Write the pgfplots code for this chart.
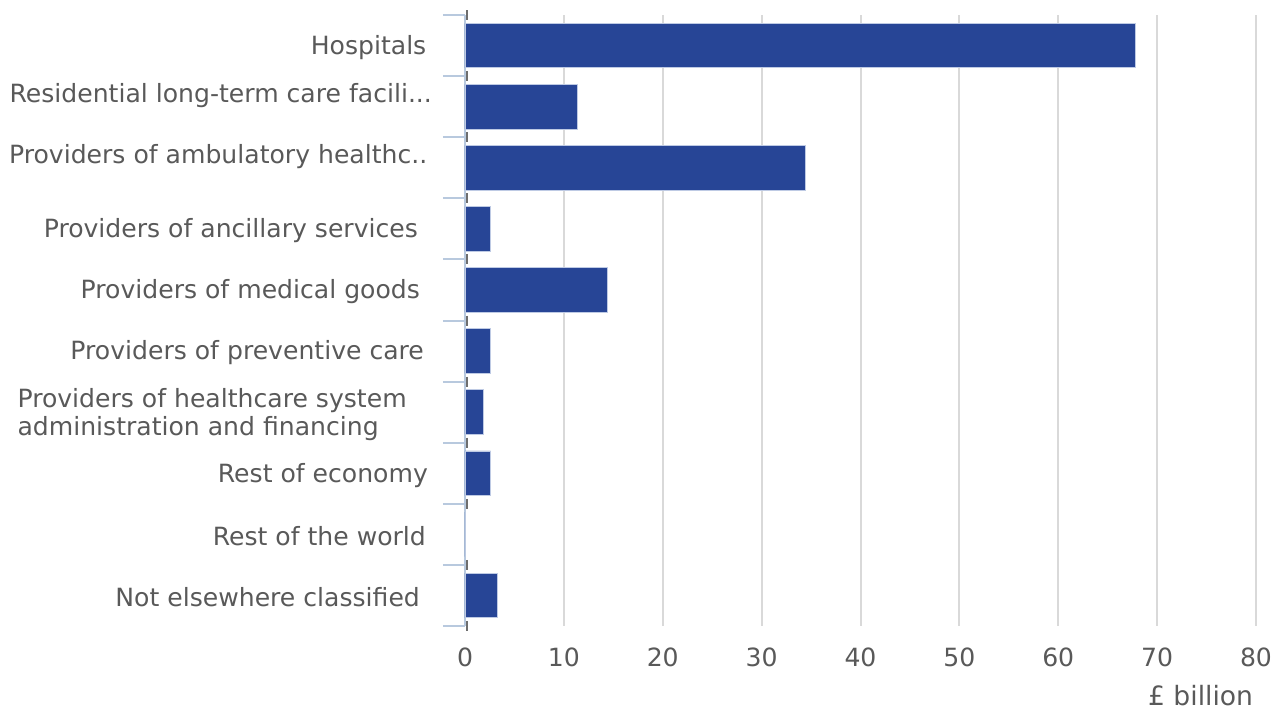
\documentclass[border=0pt]{standalone}
\usepackage{fontspec}
\setmainfont{DejaVu Sans}
\usepackage{pgfplots}
\pgfplotsset{compat=1.18}
\definecolor{barblue}{RGB}{39,69,150}
\definecolor{baredge}{RGB}{190,202,228}
\definecolor{txtgray}{RGB}{89,89,89}
\definecolor{gridgray}{RGB}{217,217,217}
\definecolor{axblue}{RGB}{184,201,222}
\definecolor{markgray}{RGB}{110,110,110}
\begin{document}
\begin{tikzpicture}
\useasboundingbox (-232.5pt,-41pt) rectangle (403.5pt,313pt);
\begin{axis}[
  at={(0,0)}, anchor=south west,
  scale only axis, width=395.5pt, height=305.5pt,
  xmin=0, xmax=80, ymin=-0.5, ymax=9.5, y dir=reverse,
  axis lines*=left,
  x axis line style={draw=none},
  y axis line style={draw=axblue, line width=1pt, -},
  xtick={0,10,...,80},
  xmajorgrids, major x grid style={gridgray, line width=1pt},
  ytick={0,...,9},
  yticklabels={
    {Hospitals\kern2.8pt},
    {\raisebox{6.5pt}[\height][\depth]{Residential long-term care facili...}},
    {\raisebox{6.5pt}[\height][\depth]{Providers of ambulatory healthc..\kern2.3pt}},
    {Providers of ancillary services\kern7pt},
    {Providers of medical goods\kern6pt},
    {Providers of preventive care\kern4pt},
    {Providers of healthcare system\kern12.6pt\\administration and financing},
    {Rest of economy\kern2pt},
    {Rest of the world\kern3pt},
    {Not elsewhere classified\kern6pt}},
  minor ytick={-0.5,0.5,...,9.5},
  major tick length=0pt, minor tick length=11pt, tick align=outside,
  minor tick style={draw=axblue, line width=1pt},
  yticklabel style={font=\fontsize{12.55}{14}\selectfont, text=txtgray, anchor=east, align=left, inner sep=0pt, xshift=-16.35pt, yshift=-1pt},
  xticklabel style={font=\fontsize{12.55}{14}\selectfont, text=txtgray, anchor=north, inner sep=0pt, yshift=-10.6pt},
  /pgf/number format/assume math mode=true,
  xlabel={£ billion},
  xlabel style={font=\fontsize{13.3}{15}\selectfont, text=txtgray, at={(axis description cs:0.93,0)}, anchor=center, inner sep=0pt, yshift=-35pt},
]
\addplot[xbar, bar width=0.73, fill=barblue, draw=baredge, line width=0.4pt] coordinates {
  (67.8,0) (11.4,1) (34.4,2) (2.6,3) (14.4,4) (2.6,5) (1.9,6) (2.6,7) (0,8) (3.3,9)
};
\addplot[only marks, mark=|, mark size=2.5pt, draw=markgray, line width=1pt] coordinates {
  (0.17,-0.5) (0.17,0.5) (0.17,1.5) (0.17,2.5) (0.17,3.5) (0.17,4.5) (0.17,5.5) (0.17,6.5) (0.17,7.5) (0.17,8.5) (0.17,9.5)
};
\end{axis}
\end{tikzpicture}
\end{document}
